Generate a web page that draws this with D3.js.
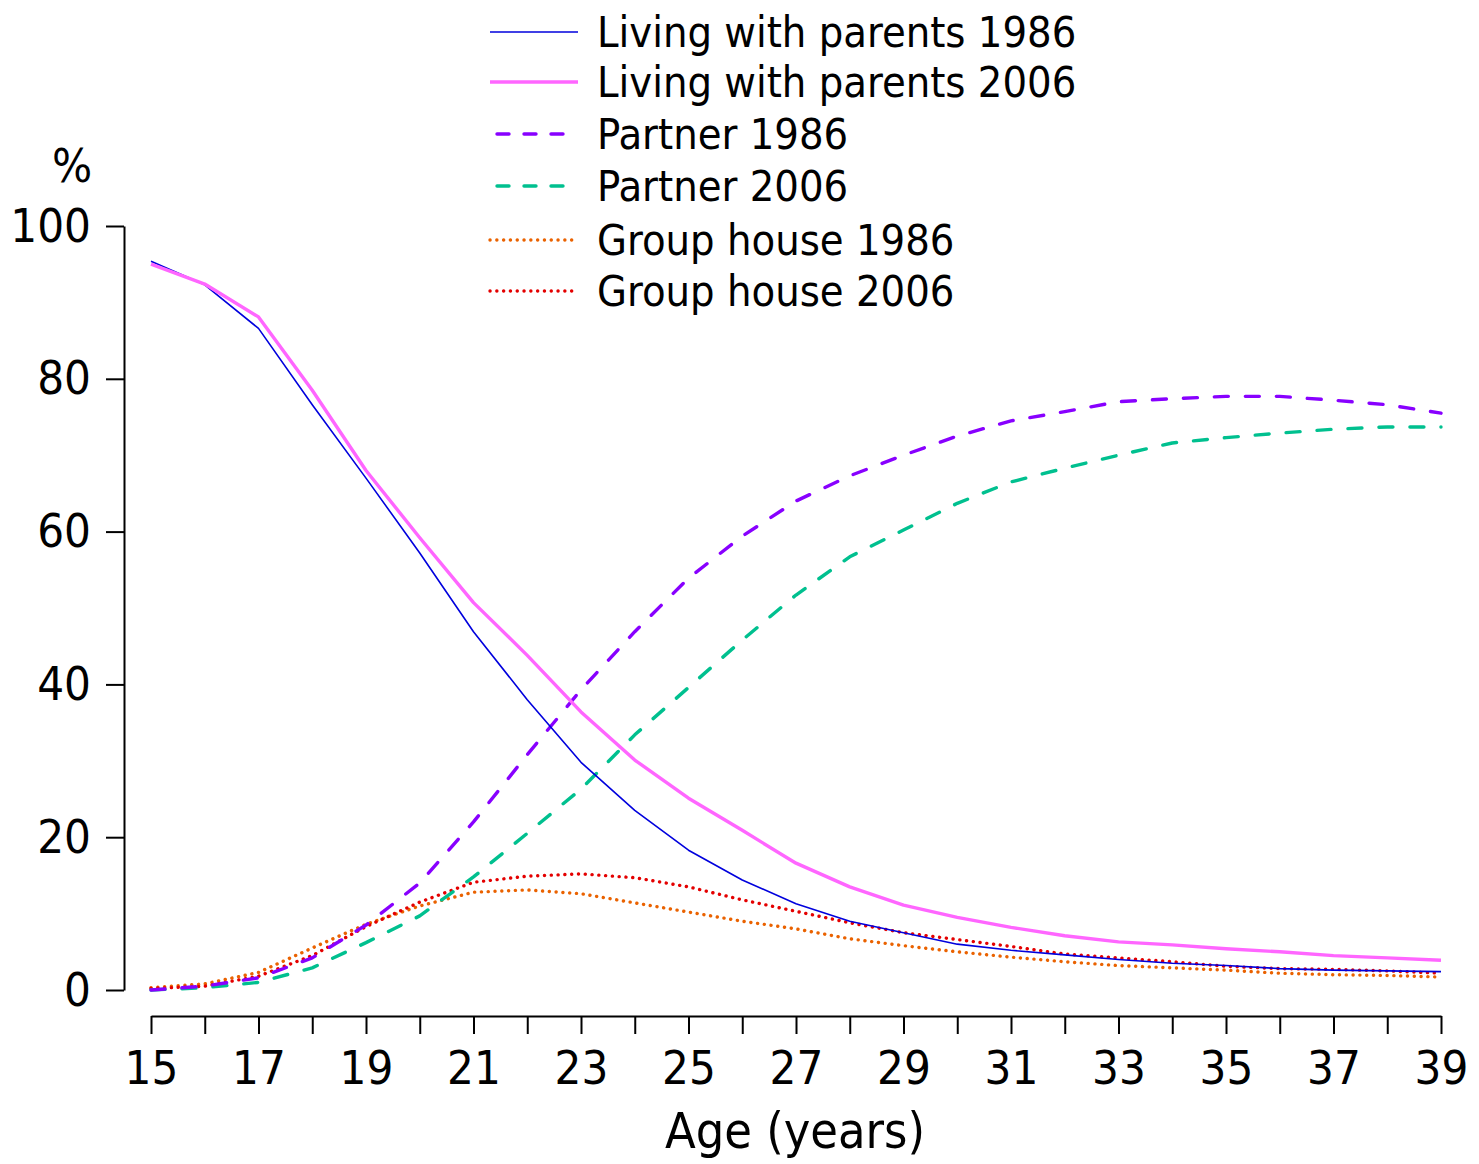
<!DOCTYPE html>
<html>
<head>
<meta charset="utf-8">
<script src="https://cdn.jsdelivr.net/npm/d3@7"></script>
<style>
  html, body { margin: 0; padding: 0; background: #fff; }
  svg text { font-family: "DejaVu Sans Condensed", "DejaVu Sans", sans-serif; fill: #000; }
</style>
</head>
<body>
<svg id="chart" width="1479" height="1164"></svg>
<script>
const ages = d3.range(15, 40);
const xTickLabels = [15, 17, 19, 21, 23, 25, 27, 29, 31, 33, 35, 37, 39];
const yTickValues = [0, 20, 40, 60, 80, 100];

const parents1986 = [95.4, 92.3, 86.6, 76.6, 67.0, 57.2, 46.9, 38.0, 29.8, 23.5, 18.3, 14.4, 11.3, 9.0, 7.5, 6.0, 5.2, 4.6, 4.0, 3.5, 3.2, 2.8, 2.6, 2.5, 2.4];
const parents2006 = [95.0, 92.4, 88.1, 78.5, 68.0, 59.2, 50.7, 43.8, 36.4, 30.1, 25.1, 20.9, 16.6, 13.5, 11.1, 9.5, 8.2, 7.1, 6.3, 5.9, 5.4, 5.0, 4.5, 4.2, 3.9];
const partner1986 = [0.0, 0.5, 1.6, 4.2, 8.5, 14.0, 22.0, 30.8, 39.3, 46.9, 53.9, 59.4, 64.0, 67.3, 70.0, 72.5, 74.5, 75.7, 77.0, 77.4, 77.7, 77.7, 77.2, 76.6, 75.5];
const partner2006 = [0.0, 0.3, 1.0, 2.9, 6.2, 9.7, 14.8, 20.5, 26.3, 33.4, 39.6, 45.8, 51.7, 56.7, 60.2, 63.7, 66.5, 68.3, 70.0, 71.6, 72.3, 72.9, 73.4, 73.7, 73.7];
const group1986 = [0.3, 0.8, 2.3, 5.5, 8.6, 11.0, 12.8, 13.1, 12.6, 11.4, 10.2, 9.0, 8.0, 6.7, 5.8, 5.0, 4.3, 3.7, 3.2, 2.9, 2.6, 2.2, 2.0, 1.9, 1.7];
const group2006 = [0.2, 0.5, 1.8, 4.5, 8.3, 11.5, 14.1, 14.9, 15.2, 14.7, 13.5, 11.8, 10.3, 8.8, 7.5, 6.6, 5.7, 4.7, 4.2, 3.7, 3.1, 2.8, 2.7, 2.5, 2.2];

const seriesNames = ["Living with parents 1986", "Living with parents 2006", "Partner 1986", "Partner 2006", "Group house 1986", "Group house 2006"];
const seriesValues = [parents1986, parents2006, partner1986, partner2006, group1986, group2006];
const seriesStyles = [
  { color: "#0000dd", width: 1.6, dash: null, cap: "butt" },
  { color: "#ff66ff", width: 3.4, dash: null, cap: "butt" },
  { color: "#8800ff", width: 3.4, dash: "14,17", cap: "round" },
  { color: "#00c08f", width: 3.4, dash: "14,17", cap: "round" },
  { color: "#ea6200", width: 3.4, dash: "0.1,6.7", cap: "round" },
  { color: "#e40000", width: 3.4, dash: "0.1,6.7", cap: "round" }
];

const svg = d3.select("#chart");
const x = d3.scaleLinear().domain([15, 39]).range([151, 1441]);
const y = d3.scaleLinear().domain([0, 100]).range([990, 226]);

// X axis (offset below plot)
const xAxis = d3.axisBottom(x)
  .tickValues(ages)
  .tickSize(18)
  .tickSizeOuter(0)
  .tickPadding(12)
  .tickFormat(d => xTickLabels.includes(d) ? String(d) : "");
const gx = svg.append("g").attr("transform", "translate(0,1016)").call(xAxis);
gx.select(".domain").attr("stroke", "#000").attr("stroke-width", 2);
gx.selectAll(".tick line").attr("stroke", "#000").attr("stroke-width", 2);
gx.selectAll(".tick text").attr("font-size", 47).attr("dy", "0.8em");

// Y axis (offset left)
const yAxis = d3.axisLeft(y)
  .tickValues(yTickValues)
  .tickSize(18)
  .tickSizeOuter(0)
  .tickPadding(15);
const gy = svg.append("g").attr("transform", "translate(124,0)").call(yAxis);
gy.select(".domain").attr("stroke", "#000").attr("stroke-width", 2);
gy.selectAll(".tick line").attr("stroke", "#000").attr("stroke-width", 2);
gy.selectAll(".tick text").attr("font-size", 47);

// Axis titles
svg.append("text").attr("x", 72).attr("y", 182).attr("text-anchor", "middle").attr("font-size", 47).text("%");
svg.append("text").attr("x", 795).attr("y", 1148).attr("text-anchor", "middle").attr("font-size", 50).text("Age (years)");

// Lines
const line = d3.line().x((d, i) => x(ages[i])).y(d => y(d));
const order = [4, 5, 3, 2, 0, 1];
order.forEach(k => {
  const s = seriesStyles[k];
  svg.append("path")
    .datum(seriesValues[k])
    .attr("fill", "none")
    .attr("stroke", s.color)
    .attr("stroke-width", s.width)
    .attr("stroke-linecap", s.cap)
    .attr("stroke-linejoin", "round")
    .attr("stroke-dasharray", s.dash)
    .attr("d", line);
});

// Legend
const legendY = [32, 82, 134, 186, 240, 291];
const legend = svg.append("g");
seriesNames.forEach((name, k) => {
  const s = seriesStyles[k];
  const ly = legendY[k];
  const isDash = s.dash && s.dash.startsWith("14");
  legend.append("line")
    .attr("x1", isDash ? 497 : 490)
    .attr("x2", isDash ? 566 : 578)
    .attr("y1", ly).attr("y2", ly)
    .attr("stroke", s.color)
    .attr("stroke-width", s.width)
    .attr("stroke-linecap", s.cap)
    .attr("stroke-dasharray", isDash ? "12,15" : s.dash);
  legend.append("text")
    .attr("x", 597).attr("y", ly + 15)
    .attr("font-size", 43)
    .text(name);
});
</script>
</body>
</html>
